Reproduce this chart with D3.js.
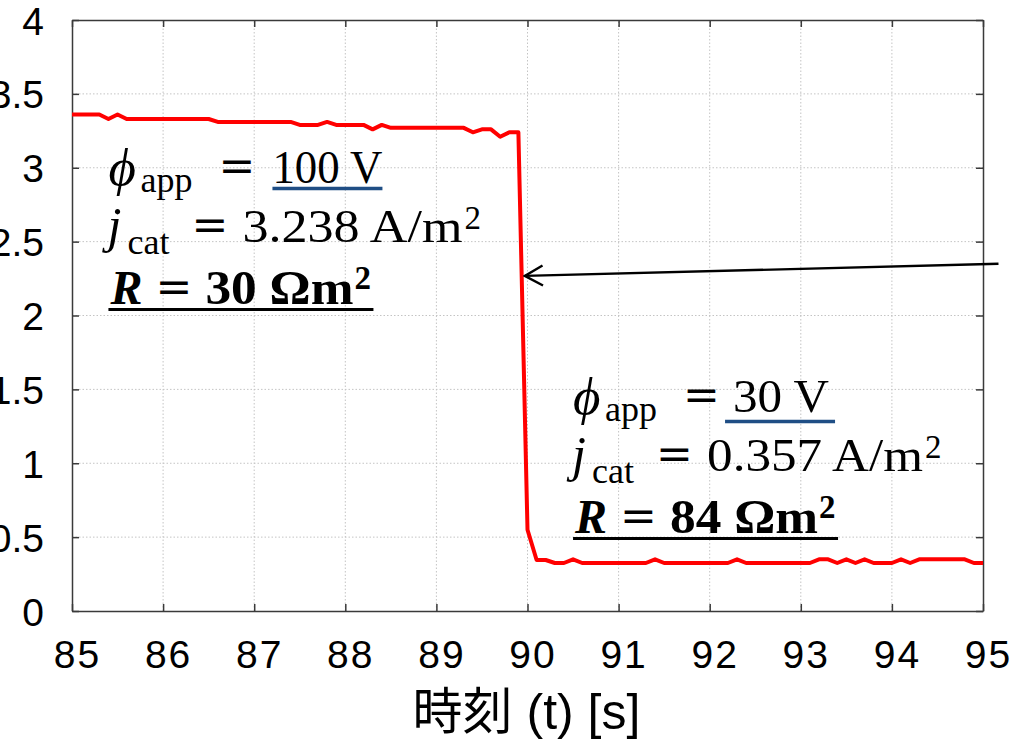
<!DOCTYPE html>
<meta charset="utf-8">

<script src="https://d3js.org/d3.v7.min.js"></script>

<body style="margin: 0; background: #ffffff">
<div id="graph"></div>
</body>
<script>

    // Time [s] and cathode current density [A/m2]
    var time = [85.0, 85.3, 85.4, 85.5, 85.6, 86.5, 86.6, 87.4, 87.5, 87.7, 87.8, 87.9,
                88.2, 88.3, 88.4, 88.5, 89.3, 89.4, 89.5, 89.6, 89.7, 89.8, 89.9,
                90.0, 90.1, 90.2, 90.3, 90.4, 90.5, 90.6, 91.3, 91.4, 91.5, 92.2, 92.3,
                92.4, 93.1, 93.2, 93.3, 93.4, 93.5, 93.6, 93.7, 93.8, 94.0, 94.1, 94.2,
                94.3, 94.8, 94.9, 95.0];
    var current = [3.36, 3.36, 3.33, 3.36, 3.33, 3.33, 3.31, 3.31, 3.29, 3.29, 3.31, 3.29,
                   3.29, 3.26, 3.29, 3.27, 3.27, 3.24, 3.26, 3.26, 3.21, 3.24, 3.24,
                   0.55, 0.345, 0.345, 0.325, 0.325, 0.35, 0.325, 0.325, 0.35, 0.325, 0.325, 0.35,
                   0.325, 0.325, 0.35, 0.35, 0.325, 0.35, 0.325, 0.35, 0.325, 0.325, 0.35, 0.325,
                   0.35, 0.35, 0.325, 0.325];

    var xTicks = [85, 86, 87, 88, 89, 90, 91, 92, 93, 94, 95];
    var yTicks = [0, 0.5, 1, 1.5, 2, 2.5, 3, 3.5, 4];
    var yTickLabels = ["0", "0.5", "1", "1.5", "2", "2.5", "3", "3.5", "4"];

    // annotation values
    var noteApplied = ["100 V", "30 V"];
    var noteCurrent = ["3.238", "0.357"];
    var noteResist = ["30", "84"];

    var width = 1019, height = 743;
    var serif = "'Liberation Serif', 'DejaVu Serif', serif";
    var sans = "'Liberation Sans', Arial, 'Noto Sans CJK JP', sans-serif";

    var svg = d3.select("#graph")
        .append("svg")
        .attr("width", width)
        .attr("height", height)
        .style("display", "block");

    var x = d3.scaleLinear().domain([85, 95]).range([72, 983]);
    var y = d3.scaleLinear().domain([0, 4]).range([611, 20]);

    // dotted grid
    svg.append("g")
        .selectAll("line")
        .data(xTicks.slice(1, -1))
        .enter()
        .append("line")
        .attr("x1", function (d) { return x(d); })
        .attr("x2", function (d) { return x(d); })
        .attr("y1", y(0))
        .attr("y2", y(4))
        .style("stroke", "#c4c4c4")
        .style("stroke-width", 1)
        .style("stroke-dasharray", "1.5,2");
    svg.append("g")
        .selectAll("line")
        .data(yTicks.slice(1, -1))
        .enter()
        .append("line")
        .attr("y1", function (d) { return y(d); })
        .attr("y2", function (d) { return y(d); })
        .attr("x1", x(85))
        .attr("x2", x(95))
        .style("stroke", "#c4c4c4")
        .style("stroke-width", 1)
        .style("stroke-dasharray", "1.5,2");

    // axes, ticks pointing inwards
    var xAxis = svg.append("g")
        .attr("transform", "translate(0," + y(0) + ")")
        .call(d3.axisBottom(x).tickValues(xTicks).tickFormat(d3.format("d"))
            .tickSizeInner(-7).tickSizeOuter(0).tickPadding(29));
    var yAxis = svg.append("g")
        .attr("transform", "translate(" + x(85) + ",0)")
        .call(d3.axisLeft(y).tickValues(yTicks)
            .tickFormat(function (d, i) { return yTickLabels[i]; })
            .tickSizeInner(-7).tickSizeOuter(0).tickPadding(28));
    svg.append("g")
        .attr("transform", "translate(0," + y(4) + ")")
        .call(d3.axisTop(x).tickValues(xTicks).tickFormat("")
            .tickSizeInner(-7).tickSizeOuter(0));
    svg.append("g")
        .attr("transform", "translate(" + x(95) + ",0)")
        .call(d3.axisRight(y).tickValues(yTicks).tickFormat("")
            .tickSizeInner(-7).tickSizeOuter(0));

    svg.selectAll(".domain, .tick line")
        .style("stroke", "#3a3a3a")
        .style("stroke-width", 1.5);
    svg.selectAll(".tick text")
        .style("font-family", sans)
        .style("font-size", "39px")
        .style("fill", "#000");
    xAxis.selectAll(".tick text").attr("dx", 5).style("letter-spacing", "2px");
    yAxis.selectAll(".tick text").attr("dy", "0.36em");

    // x axis title
    svg.append("text")
        .attr("x", x(90) - 1)
        .attr("y", 729)
        .attr("text-anchor", "middle")
        .style("font-family", sans)
        .style("font-size", "50px")
        .text("時刻 (t) [s]");

    // current density trace
    var line = d3.line()
        .x(function (d, i) { return x(time[i]); })
        .y(function (d) { return y(d); });
    svg.append("path")
        .datum(current)
        .attr("d", line)
        .style("fill", "none")
        .style("stroke", "#ff0000")
        .style("stroke-width", 4)
        .style("stroke-linejoin", "round");

    // arrow pointing at the step
    svg.append("defs").append("marker")
        .attr("id", "head")
        .attr("viewBox", "0 0 22 24")
        .attr("refX", 20).attr("refY", 12)
        .attr("markerWidth", 22).attr("markerHeight", 24)
        .attr("markerUnits", "userSpaceOnUse")
        .attr("orient", "auto")
        .append("path")
        .attr("d", "M2,2 L20,12 L2,22")
        .style("fill", "none")
        .style("stroke", "#000")
        .style("stroke-width", 2.4);
    svg.append("line")
        .attr("x1", x(95.17)).attr("y1", y(2.35))
        .attr("x2", x(89.97)).attr("y2", y(2.268))
        .attr("marker-end", "url(#head)")
        .style("stroke", "#000")
        .style("stroke-width", 2.4);

    // annotations
    function put(g, px, py, s, size, italic, bold, family, len) {
        var t = g.append("text")
            .attr("x", px).attr("y", py)
            .style("font-family", family || serif)
            .style("font-size", size + "px")
            .style("font-style", italic ? "italic" : "normal")
            .style("font-weight", bold ? "bold" : "normal")
            .text(s);
        if (len) t.attr("textLength", len).attr("lengthAdjust", "spacingAndGlyphs");
        return t;
    }

    var notePos = [{t: 85.4, v: 2.9, valX: 164, valLen: 110, lineX: 164, lineY: 6, curLen: 220},
                   {t: 90.5, v: 1.35, valX: 160, valLen: 96, lineX: 152, lineY: 10, curLen: 216}];

    notePos.forEach(function (p, i) {
        var g = svg.append("g")
            .attr("transform", "translate(" + x(p.t) + "," + y(p.v) + ")");
        var eq = "'DejaVu Serif', serif";

        put(g, 0, 2, "\u03D5", 53, true);
        put(g, 32, 9, "app", 36);
        put(g, 110, -2, "=", 44, false, false, eq);
        put(g, p.valX, 0, noteApplied[i], 47, false, false, null, p.valLen);
        g.append("line")
            .attr("x1", p.lineX).attr("x2", p.lineX + 110)
            .attr("y1", p.lineY).attr("y2", p.lineY)
            .style("stroke", "#1f4e85")
            .style("stroke-width", 3.5);

        put(g, -1, 59, "j", 50, true);
        put(g, 19, 71, "cat", 36);
        put(g, 83, 57, "=", 44, false, false, eq);
        put(g, 134, 59, noteCurrent[i] + " A/m", 47, false, false, null, p.curLen);
        put(g, 134 + p.curLen + 2, 46, "2", 33);

        put(g, 2, 121, "R", 48, true, true);
        put(g, 47, 119, "=", 44, false, false, eq);
        put(g, 97, 121, noteResist[i] + " \u03A9m", 48, false, true, null, 148);
        put(g, 97 + 148 + 1, 106, "2", 33, false, true);
        g.append("line")
            .attr("x1", 0).attr("x2", 265)
            .attr("y1", 127).attr("y2", 127)
            .style("stroke", "#000")
            .style("stroke-width", 3);
    });

</script>
